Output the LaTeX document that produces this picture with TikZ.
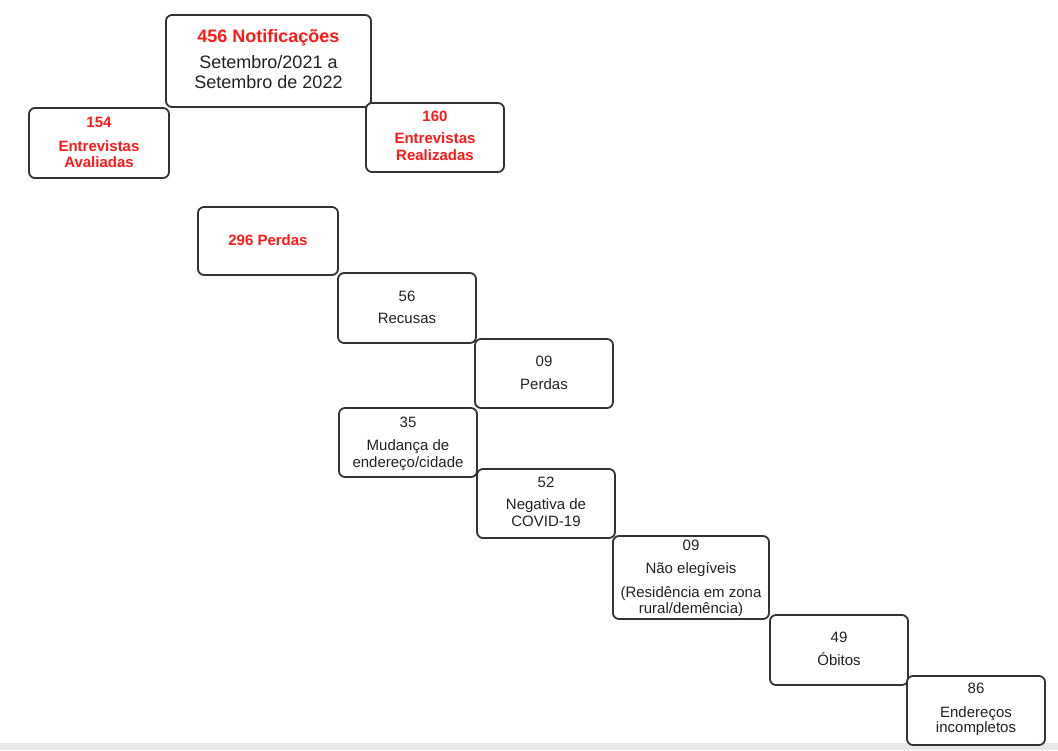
\documentclass[tikz,border=0pt]{standalone}
\usepackage{fontspec}
\setmainfont{Liberation Sans}
\definecolor{frame}{HTML}{333333}
\definecolor{redtxt}{HTML}{FF1A1A}
\definecolor{ink}{HTML}{222222}
\definecolor{strip}{HTML}{E9E9E9}
\begin{document}
\begin{tikzpicture}[x=1pt,y=-1pt,
  box/.style={draw=frame, line width=1.8pt, rounded corners=6pt, inner sep=0pt, fill=white},
  txt/.style={inner sep=0pt, text height=.72em, text depth=0pt, text=ink, yshift=-2pt, font=\fontsize{15}{17}\selectfont},
  rtxt/.style={txt, text=redtxt, font=\bfseries\fontsize{15}{17}\selectfont},
  ttl/.style={txt, text=redtxt, font=\bfseries\fontsize{18}{20}\selectfont},
  big/.style={txt, font=\fontsize{18}{20}\selectfont}]
\useasboundingbox (0,0) rectangle (1058,750);
\fill[white] (0,0) rectangle (1058,750);
\fill[strip] (0,743) rectangle (1058,750);
% boxes
\node[box, minimum width=205pt, minimum height=92pt] (b1) at (268.5,61) {};
\node[box, minimum width=140pt, minimum height=70pt] (b154) at (99,143) {};
\node[box, minimum width=138pt, minimum height=69pt] (b160) at (435,137.5) {};
\node[box, minimum width=140pt, minimum height=68pt] (b296) at (268,241) {};
\node[box, minimum width=138pt, minimum height=70pt] (b56) at (407,308) {};
\node[box, minimum width=138pt, minimum height=69pt] (b09) at (544,373.5) {};
\node[box, minimum width=138pt, minimum height=69pt] (b35) at (408,442.5) {};
\node[box, minimum width=138pt, minimum height=69pt] (b52) at (546,503.5) {};
\node[box, minimum width=156pt, minimum height=83pt] (bne) at (691,577.5) {};
\node[box, minimum width=138pt, minimum height=70pt] (b49) at (839,650) {};
\node[box, minimum width=138pt, minimum height=69pt] (b86) at (976,710.5) {};
% texts
\node[ttl] (t1a) at (268.5,37) {456 Notificações};
\node[big] (t1b) at (268.5,63) {Setembro/2021 a};
\node[big] (t1c) at (268.5,82.5) {Setembro de 2022};
\node[rtxt] (t154a) at (99,122) {154};
\node[rtxt] (t154b) at (99,146) {Entrevistas};
\node[rtxt] (t154c) at (99,162) {Avaliadas};
\node[rtxt] (t160a) at (435,116) {160};
\node[rtxt] (t160b) at (435,138) {Entrevistas};
\node[rtxt] (t160c) at (435,155) {Realizadas};
\node[rtxt] (t296) at (268,240) {296 Perdas};
\node[txt] (t56a) at (407,296) {56};
\node[txt] (t56b) at (407,318) {Recusas};
\node[txt] (t09a) at (544,361) {09};
\node[txt] (t09b) at (544,384) {Perdas};
\node[txt] (t35a) at (408,422) {35};
\node[txt] (t35b) at (408,445) {Mudança de};
\node[txt] (t35c) at (408,462) {endereço/cidade};
\node[txt] (t52a) at (546,482) {52};
\node[txt] (t52b) at (546,504) {Negativa de};
\node[txt] (t52c) at (546,521) {COVID-19};
\node[txt] (tnea) at (691,545) {09};
\node[txt] (tneb) at (691,568) {Não elegíveis};
\node[txt] (tnec) at (691,592) {(Residência em zona};
\node[txt] (tned) at (691,608) {rural/demência)};
\node[txt] (t49a) at (839,637) {49};
\node[txt] (t49b) at (839,660) {Óbitos};
\node[txt] (t86a) at (976,688) {86};
\node[txt] (t86b) at (976,712) {Endereços};
\node[txt] (t86c) at (976,727) {incompletos};
\end{tikzpicture}
\end{document}
